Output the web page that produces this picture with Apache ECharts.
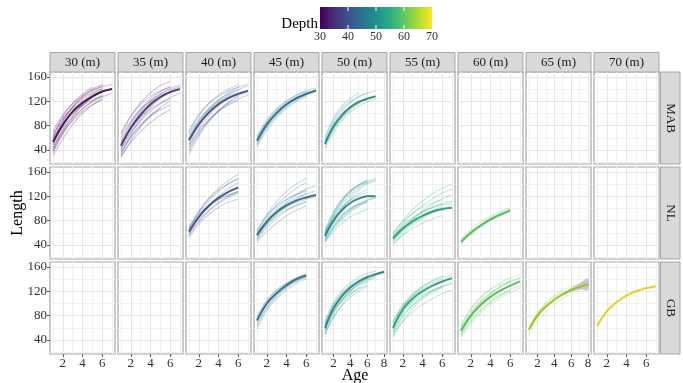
<!DOCTYPE html>
<html>
<head>
<meta charset="utf-8">
<script src="https://cdn.jsdelivr.net/npm/echarts@6/dist/echarts.min.js"></script>
<style>
html,body{margin:0;padding:0;background:#fff}
#main{width:683px;height:383px}
</style>
</head>
<body>
<div id="main"></div>
<script>
// facets
var regions = ['MAB', 'NL', 'GB'];
var depths = [30, 35, 40, 45, 50, 55, 60, 65, 70];
var depthTicks = [30, 40, 50, 60, 70];
var depthColors = ['#440154', '#472d7b', '#3b528b', '#2c728e', '#21908c', '#27ad81', '#5dc863', '#aadc32', '#fde725'];
var yTicks = [40, 80, 120, 160];
var xTicksShort = [2, 4, 6];
var xTicksLong = [2, 4, 6, 8];

// length at age 1,2,3... for every fish, and the fitted mean curve
var mab30Mean = [53, 81, 103, 117, 128, 136, 140];
var mab30Fish = [
  [35, 66, 90, 107, 120, 130], [42, 75, 98, 114, 126, 135, 140], [60, 90, 110, 124, 134, 141],
  [70, 98, 116, 129, 138, 145], [48, 80, 104, 120, 132, 140], [30, 58, 82, 100, 114, 124],
  [55, 88, 112, 128, 140, 148], [65, 92, 108, 119, 127], [45, 72, 93, 108, 119, 127, 133],
  [38, 70, 95, 113, 127, 137], [58, 84, 101, 113, 122, 128], [50, 85, 110, 126, 137, 144, 148],
  [62, 95, 117, 132, 143], [40, 68, 88, 103, 114, 122]
];
var mab35Mean = [47, 76, 98, 115, 127, 135, 140];
var mab35Fish = [
  [28, 55, 78, 96, 110, 120], [40, 70, 94, 112, 126, 136, 142], [55, 85, 108, 124, 136, 144],
  [68, 96, 115, 128, 137, 143], [35, 60, 80, 95, 106, 114], [45, 78, 102, 119, 132, 141, 146],
  [60, 88, 107, 120, 129, 135], [32, 64, 90, 110, 125, 136], [50, 82, 105, 121, 132, 139, 143],
  [38, 62, 82, 97, 108], [65, 95, 118, 134, 146, 152], [42, 68, 88, 104, 116, 126, 133],
  [52, 76, 94, 107, 117, 124], [30, 52, 70, 85, 97, 106]
];
var mab40Mean = [56, 82, 101, 115, 125, 132, 137];
var mab40Fish = [
  [33, 62, 86, 104, 118, 128], [45, 74, 96, 112, 124, 133, 138], [60, 88, 108, 122, 132, 139],
  [72, 98, 116, 128, 137, 143], [50, 80, 102, 118, 130, 139, 145], [38, 66, 88, 105, 118, 128],
  [65, 90, 107, 119, 128, 134], [55, 84, 106, 122, 134, 143, 148], [42, 68, 88, 103, 115, 124, 130],
  [68, 96, 116, 130, 140, 147], [48, 72, 90, 104, 114, 121], [58, 86, 104, 116, 124, 130, 134]
];
var mab45Mean = [55, 82, 101, 115, 125, 132, 138];
var mab45Fish = [
  [50, 78, 98, 113, 124, 132, 138], [60, 87, 106, 120, 130, 137, 142], [45, 72, 93, 108, 120, 128],
  [58, 86, 104, 117, 127, 134, 139], [52, 80, 100, 114, 124, 131], [63, 90, 108, 121, 130, 136],
  [48, 76, 96, 111, 122, 130, 135]
];
var mab50Mean = [50, 78, 97, 110, 119, 124, 128];
var mab50Fish = [
  [45, 72, 92, 106, 116, 122], [55, 84, 104, 118, 127, 133, 137], [48, 74, 94, 108, 118, 125, 129],
  [58, 88, 108, 120, 128, 133], [42, 68, 88, 102, 112, 119, 124], [52, 82, 100, 112, 120, 126],
  [60, 92, 112, 125, 133]
];
var nl40Mean = [62, 86, 104, 117, 127, 134];
var nl40Fish = [
  [58, 84, 104, 120, 132, 142], [65, 92, 112, 128, 140, 150], [55, 78, 95, 108, 118, 125],
  [70, 96, 116, 130, 141, 148], [60, 85, 102, 114, 122, 128], [52, 74, 90, 102, 110, 115],
  [66, 94, 116, 133, 146, 156], [62, 88, 106, 119, 128, 135], [58, 80, 97, 110, 120, 128],
  [68, 90, 105, 115, 122, 126]
];
var nl45Mean = [56, 78, 94, 105, 113, 118, 122];
var nl45Fish = [
  [50, 72, 90, 104, 115, 124], [60, 86, 106, 121, 133, 142], [55, 74, 88, 98, 105, 110],
  [62, 90, 112, 128, 140, 149], [48, 68, 84, 96, 105, 112], [58, 80, 96, 108, 117, 124, 129],
  [52, 76, 95, 110, 122, 131], [65, 88, 104, 115, 123, 128], [45, 62, 76, 88, 97, 104],
  [57, 82, 100, 114, 124, 132, 137], [60, 78, 92, 102, 110, 115, 119]
];
var nl50Mean = [55, 80, 97, 109, 116, 120, 120];
var nl50Fish = [
  [50, 78, 100, 117, 130, 140, 146], [60, 90, 112, 128, 139, 147], [45, 66, 82, 94, 103, 110],
  [55, 84, 106, 122, 134, 142, 148], [62, 86, 102, 113, 121, 126], [48, 70, 86, 98, 107, 113, 117],
  [58, 88, 110, 126, 137, 144], [44, 62, 76, 86, 93, 98], [52, 80, 100, 114, 124, 131],
  [65, 95, 115, 129, 138, 144], [50, 72, 88, 100, 108, 114, 118], [56, 76, 90, 100, 106, 110],
  [60, 92, 114, 129, 139, 145, 150], [47, 68, 84, 96, 105, 112]
];
var nl55Mean = [51, 67, 79, 88, 95, 99, 101];
var nl55Fish = [
  [45, 62, 76, 87, 96, 103], [55, 75, 92, 105, 116, 125, 132], [50, 68, 82, 93, 101, 107],
  [58, 80, 98, 112, 124, 133, 140], [42, 56, 67, 76, 83, 88], [52, 70, 84, 94, 102, 108, 112],
  [48, 64, 76, 86, 93, 98], [60, 78, 92, 102, 109, 114], [46, 66, 82, 96, 107, 116, 122],
  [54, 72, 85, 95, 102, 106, 109], [40, 58, 72, 84, 93, 100]
];
var nl60Mean = [45, 60, 72, 82, 90, 97];
var nl60Fish = [
  [42, 57, 70, 80, 89, 96], [48, 63, 75, 85, 93, 100], [44, 59, 71, 81, 88, 94],
  [50, 66, 78, 87, 95, 101], [46, 61, 73, 83, 91]
];
var gb45Mean = [72, 100, 117, 130, 140, 146];
var gb45Fish = [
  [66, 94, 113, 127, 137, 144], [76, 104, 121, 133, 142, 148], [58, 88, 108, 122, 133, 140],
  [70, 98, 116, 129, 138, 144], [80, 106, 122, 133, 141], [62, 92, 112, 126, 136, 143],
  [74, 101, 118, 131, 141, 148]
];
var gb50Mean = [60, 92, 112, 126, 136, 143, 148, 152];
var gb50Fish = [
  [55, 86, 107, 122, 133, 141, 147, 151], [65, 97, 117, 130, 139, 145, 150], [50, 82, 104, 120, 131, 139, 145],
  [68, 98, 116, 128, 136, 142], [58, 90, 110, 124, 134, 141, 146, 150], [62, 88, 104, 116, 124, 130],
  [52, 78, 96, 110, 120, 128], [70, 102, 121, 134, 143, 149, 153], [57, 86, 106, 120, 130, 137, 142],
  [48, 76, 98, 114, 126, 135]
];
var gb55Mean = [60, 90, 108, 120, 129, 136, 141];
var gb55Fish = [
  [55, 85, 104, 118, 128, 136, 142], [65, 95, 113, 125, 134, 140, 145], [50, 78, 97, 110, 120, 127],
  [68, 98, 116, 128, 137, 143, 148], [58, 86, 103, 114, 122, 128, 132], [45, 72, 92, 107, 118, 126],
  [62, 94, 114, 128, 138, 146], [53, 80, 98, 111, 121, 128, 134], [70, 96, 112, 123, 131, 136],
  [48, 70, 86, 98, 108, 116, 122]
];
var gb60Mean = [55, 80, 98, 111, 121, 129, 136];
var gb60Fish = [
  [50, 76, 95, 110, 121, 130, 137], [60, 86, 104, 117, 127, 135, 141], [46, 70, 88, 102, 113, 122],
  [62, 90, 110, 124, 134, 142, 147], [54, 78, 95, 107, 116, 123, 128], [44, 66, 84, 98, 109, 118, 125],
  [58, 84, 103, 117, 128, 137], [65, 92, 110, 122, 131, 137], [52, 80, 100, 115, 127, 136, 143],
  [48, 72, 90, 103, 113, 120]
];
var gb65Mean = [57, 80, 95, 106, 115, 122, 127, 131];
var gb65Lower = [55, 78, 94, 105, 113, 119, 123, 122];
var gb65Upper = [59, 82, 96, 107, 117, 125, 133, 141];
var gb65Fish = [
  [52, 76, 92, 104, 114, 121, 126], [62, 85, 100, 111, 119, 125, 129], [55, 78, 94, 106, 115, 122],
  [60, 84, 101, 113, 122, 128, 132, 135], [48, 70, 86, 98, 108, 116, 122], [58, 82, 98, 109, 117, 123, 127, 130]
];
var gb70Mean = [63, 87, 102, 113, 120, 125, 128];
var gb70Fish = [
  [60, 84, 100, 111, 119, 124, 127], [66, 90, 105, 115, 122, 127, 130]
];

var panels = [
  {region: 'MAB', depth: 30, mean: mab30Mean, fish: mab30Fish},
  {region: 'MAB', depth: 35, mean: mab35Mean, fish: mab35Fish},
  {region: 'MAB', depth: 40, mean: mab40Mean, fish: mab40Fish},
  {region: 'MAB', depth: 45, mean: mab45Mean, fish: mab45Fish},
  {region: 'MAB', depth: 50, mean: mab50Mean, fish: mab50Fish},
  {region: 'NL', depth: 40, mean: nl40Mean, fish: nl40Fish},
  {region: 'NL', depth: 45, mean: nl45Mean, fish: nl45Fish},
  {region: 'NL', depth: 50, mean: nl50Mean, fish: nl50Fish},
  {region: 'NL', depth: 55, mean: nl55Mean, fish: nl55Fish},
  {region: 'NL', depth: 60, mean: nl60Mean, fish: nl60Fish},
  {region: 'GB', depth: 45, mean: gb45Mean, fish: gb45Fish},
  {region: 'GB', depth: 50, mean: gb50Mean, fish: gb50Fish},
  {region: 'GB', depth: 55, mean: gb55Mean, fish: gb55Fish},
  {region: 'GB', depth: 60, mean: gb60Mean, fish: gb60Fish},
  {region: 'GB', depth: 65, mean: gb65Mean, fish: gb65Fish, lower: gb65Lower, upper: gb65Upper},
  {region: 'GB', depth: 70, mean: gb70Mean, fish: gb70Fish}
];

// layout
var serif = '"Liberation Serif", "DejaVu Serif", serif';
var colLeft = 50, colStep = 68, panelW = 65;
var rowTops = [72, 167, 262], panelH = 92;
var yRange = [17, 168];

function darken(hex, f) {
  var n = parseInt(hex.slice(1), 16);
  var r = Math.round(((n >> 16) & 255) * (1 - f));
  var g = Math.round(((n >> 8) & 255) * (1 - f));
  var b = Math.round((n & 255) * (1 - f));
  return 'rgb(' + r + ',' + g + ',' + b + ')';
}
function toPoints(arr) {
  return arr.map(function (v, i) { return [i + 1, v]; });
}

var grids = [], xAxes = [], yAxes = [], series = [], graphics = [];

regions.forEach(function (reg, r) {
  depths.forEach(function (d, c) {
    var g = grids.length;
    var longX = (d === 50 || d === 65);
    var xr = longX ? [0.65, 8.35] : [0.7, 7.3];
    var xt = longX ? xTicksLong : xTicksShort;
    var isBottom = r === 2, isLeft = c === 0;
    grids.push({
      left: colLeft + c * colStep, top: rowTops[r], width: panelW, height: panelH,
      show: true, backgroundColor: '#fff', borderColor: '#a6a6a6', borderWidth: 1.2
    });
    xAxes.push({
      gridIndex: g, type: 'value', min: xr[0], max: xr[1], z: 1,
      axisLine: {show: false},
      axisTick: {show: isBottom, customValues: xt, length: 3, lineStyle: {color: '#555'}},
      axisLabel: {show: isBottom, customValues: xt, margin: 3, fontFamily: serif, fontSize: 13, color: '#333'},
      splitLine: {show: true, lineStyle: {color: '#e6e6e6', width: 1}}
    });
    xAxes.push({
      gridIndex: g, type: 'value', min: xr[0], max: xr[1], splitNumber: 7,
      axisLine: {show: false}, axisTick: {show: false}, axisLabel: {show: false},
      splitLine: {show: true, showMinLine: false, showMaxLine: false, lineStyle: {color: '#f1f1f1', width: 1}}
    });
    yAxes.push({
      gridIndex: g, type: 'value', min: yRange[0], max: yRange[1], z: 1,
      axisLine: {show: false},
      axisTick: {show: isLeft, customValues: yTicks, length: 3, lineStyle: {color: '#555'}},
      axisLabel: {show: isLeft, customValues: yTicks, margin: 3, fontFamily: serif, fontSize: 13, color: '#333'},
      splitLine: {show: true, lineStyle: {color: '#e6e6e6', width: 1}}
    });
    yAxes.push({
      gridIndex: g, type: 'value', min: yRange[0], max: yRange[1], splitNumber: 7,
      axisLine: {show: false}, axisTick: {show: false}, axisLabel: {show: false},
      splitLine: {show: true, showMinLine: false, showMaxLine: false, lineStyle: {color: '#f1f1f1', width: 1}}
    });

    var p = panels.filter(function (q) { return q.region === reg && q.depth === d; })[0];
    if (!p) return;
    var col = depthColors[c];
    p.fish.forEach(function (f) {
      series.push({
        type: 'line', xAxisIndex: 2 * g, yAxisIndex: 2 * g, data: toPoints(f),
        smooth: 0.4, symbol: 'none', silent: true, z: 2,
        lineStyle: {color: col, width: 1.1, opacity: 0.25}
      });
    });
    if (p.lower) {
      var lo = p.lower, up = p.upper;
      series.push({
        type: 'custom', xAxisIndex: 2 * g, yAxisIndex: 2 * g, silent: true, z: 3,
        data: toPoints(lo),
        renderItem: function (params, api) {
          if (params.dataIndex !== 0) return;
          var pts = [];
          lo.forEach(function (v, i) { pts.push(api.coord([i + 1, v])); });
          for (var i = up.length - 1; i >= 0; i--) pts.push(api.coord([i + 1, up[i]]));
          return {type: 'polygon', shape: {points: pts, smooth: 0.3}, style: {fill: 'rgba(140,140,140,0.45)'}};
        }
      });
    }
    series.push({
      type: 'line', xAxisIndex: 2 * g, yAxisIndex: 2 * g, data: toPoints(p.mean),
      smooth: 0.4, symbol: 'none', silent: true, z: 4,
      lineStyle: {color: darken(col, 0.12), width: 1.9, opacity: 0.9}
    });
  });
});

// column strips
depths.forEach(function (d, c) {
  var x = colLeft + c * colStep;
  graphics.push({type: 'rect', shape: {x: x, y: 52.5, width: panelW, height: 19.5},
    style: {fill: '#d9d9d9', stroke: '#a6a6a6', lineWidth: 1}});
  graphics.push({type: 'text', x: x + panelW / 2, y: 62.5,
    style: {text: d + ' (m)', font: '13px ' + serif, fill: '#1a1a1a', align: 'center', verticalAlign: 'middle'}});
});
// row strips
regions.forEach(function (reg, r) {
  graphics.push({type: 'rect', shape: {x: 660.5, y: rowTops[r], width: 19.5, height: panelH},
    style: {fill: '#d9d9d9', stroke: '#a6a6a6', lineWidth: 1}});
  graphics.push({type: 'text', x: 670.5, y: rowTops[r] + panelH / 2, rotation: -Math.PI / 2,
    style: {text: reg, font: '13px ' + serif, fill: '#1a1a1a', align: 'center', verticalAlign: 'middle'}});
});
// axis titles
graphics.push({type: 'text', x: 18, y: 213, rotation: Math.PI / 2,
  style: {text: 'Length', font: '16px ' + serif, fill: '#000', align: 'center', verticalAlign: 'middle'}});
graphics.push({type: 'text', x: 355, y: 376,
  style: {text: 'Age', font: '16px ' + serif, fill: '#000', align: 'center', verticalAlign: 'middle'}});

// colour bar legend
var barX = 320, barY = 7, barW = 112, barH = 22;
var dMin = depthTicks[0], dMax = depthTicks[depthTicks.length - 1];
graphics.push({type: 'rect', shape: {x: barX, y: barY, width: barW, height: barH},
  style: {fill: new echarts.graphic.LinearGradient(0, 0, 1, 0, depthColors.map(function (c, i) {
    return {offset: i / (depthColors.length - 1), color: c};
  }))}});
depthTicks.forEach(function (t) {
  var tx = barX + (t - dMin) / (dMax - dMin) * barW;
  if (t > dMin && t < dMax) {
    graphics.push({type: 'line', shape: {x1: tx, y1: barY, x2: tx, y2: barY + 4}, style: {stroke: '#fff', lineWidth: 1}});
    graphics.push({type: 'line', shape: {x1: tx, y1: barY + barH - 4, x2: tx, y2: barY + barH}, style: {stroke: '#fff', lineWidth: 1}});
  }
  graphics.push({type: 'text', x: tx, y: 37,
    style: {text: String(t), font: '12px ' + serif, fill: '#333', align: 'center', verticalAlign: 'middle'}});
});
graphics.push({type: 'text', x: 318, y: 24,
  style: {text: 'Depth', font: '15px ' + serif, fill: '#000', align: 'right', verticalAlign: 'middle'}});

var chart = echarts.init(document.getElementById('main'));
chart.setOption({
  backgroundColor: '#fff',
  animation: false,
  grid: grids,
  xAxis: xAxes,
  yAxis: yAxes,
  series: series,
  graphic: graphics
});
</script>
</body>
</html>
